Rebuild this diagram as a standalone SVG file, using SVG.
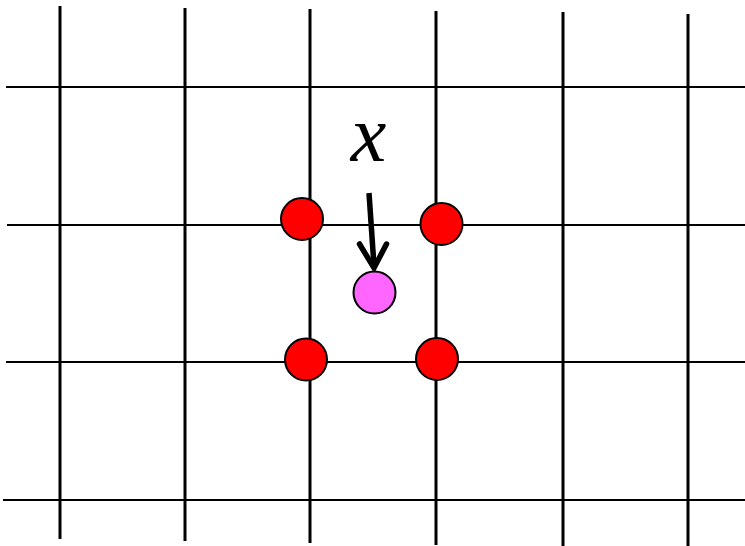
<svg xmlns="http://www.w3.org/2000/svg" width="745" height="546" viewBox="0 0 745 546">
<style>
.v{stroke:#000;stroke-width:3;fill:none}
.h{stroke:#000;stroke-width:2.2;fill:none}
.red{fill:#ff0000;stroke:#000;stroke-width:2}
.pink{fill:#ff66ff;stroke:#000;stroke-width:2}
.lbl{font-family:"Liberation Serif","DejaVu Serif",serif;font-style:italic;fill:#000}
</style>
<rect width="745" height="546" fill="#fff"/>
<g id="grid">
<line class="v" x1="60" y1="6" x2="60" y2="539"/>
<line class="v" x1="185" y1="8" x2="185" y2="541"/>
<line class="v" x1="310" y1="9" x2="310" y2="543"/>
<line class="v" x1="436" y1="11" x2="436" y2="545"/>
<line class="v" x1="563" y1="12" x2="563" y2="546"/>
<line class="v" x1="688" y1="14" x2="688" y2="546"/>
<line class="h" x1="6" y1="87" x2="745" y2="87"/>
<line class="h" x1="7" y1="225" x2="745" y2="225"/>
<line class="h" x1="6" y1="362" x2="745" y2="362"/>
<line class="h" x1="3" y1="500" x2="745" y2="500"/>
</g>
<g id="connectors">
<line x1="369" y1="193" x2="374" y2="266" stroke="#000" stroke-width="5.5"/>
<polyline points="359.5,244 374,268 386.5,244" fill="none" stroke="#000" stroke-width="5.5" stroke-linecap="round" stroke-linejoin="miter"/>
</g>
<g id="n1"><circle class="red" cx="302" cy="219" r="21"/></g>
<g id="n2"><circle class="red" cx="441.5" cy="224" r="21"/></g>
<g id="n3"><circle class="red" cx="306" cy="359.5" r="21"/></g>
<g id="n4"><circle class="red" cx="437" cy="359" r="21"/></g>
<g id="p"><circle class="pink" cx="374.5" cy="292.5" r="21"/></g>
<g id="label"><text class="lbl" x="368.5" y="161" font-size="80" text-anchor="middle">x</text></g>
</svg>
